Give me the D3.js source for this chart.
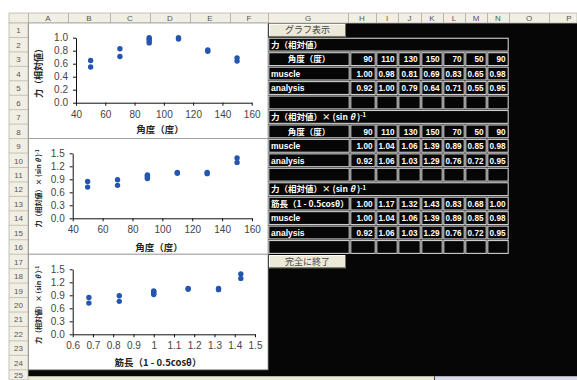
<!DOCTYPE html>
<html>
<head>
<meta charset="utf-8">
<script src="https://cdn.jsdelivr.net/npm/d3@7"></script>
<style>
  html, body { margin: 0; padding: 0; background: #fff; }
  svg { display: block; }
</style>
</head>
<body>
<svg id="sheet" width="577" height="380"></svg>
<script>
// ---- data ----
const angles = [90, 110, 130, 150, 70, 50, 90];
const forceMuscle = [1.00, 0.98, 0.81, 0.69, 0.83, 0.65, 0.98];
const forceAnalysis = [0.92, 1.00, 0.79, 0.64, 0.71, 0.55, 0.95];
const corrMuscle = [1.00, 1.04, 1.06, 1.39, 0.89, 0.85, 0.98];
const corrAnalysis = [0.92, 1.06, 1.03, 1.29, 0.76, 0.72, 0.95];
const muscleLength = [1.00, 1.17, 1.32, 1.43, 0.83, 0.68, 1.00];

const angleTicks = [40, 60, 80, 100, 120, 140, 160];
const forceTicks = [0, 0.2, 0.4, 0.6, 0.8, 1.0];
const corrTicks = [0, 0.3, 0.6, 0.9, 1.2, 1.5];
const lengthTicks = [0.6, 0.7, 0.8, 0.9, 1.0, 1.1, 1.2, 1.3, 1.4, 1.5];

const colLetters = ["A","B","C","D","E","F","G","H","I","J","K","L","M","N","O","P"];
const rowCount = 25;

// ---- sheet geometry ----
const svg = d3.select("#sheet");
const W = 577, H = 380;
const JP = "'Noto Sans CJK JP', sans-serif";
const LAT = "'Liberation Sans', Arial, sans-serif";
const headerTop = 13, headerBottom = 23, rowHdrLeft = 9, rowHdrRight = 28;
const rowH = 14.45;
const rowTop = r => headerBottom + (r - 1) * rowH;
const colEdges = [28, 68, 110, 150, 190, 230, 268, 348, 376, 398, 421, 443, 465, 487, 509, 549, 589];
const hdrFill = "#f1efe4", hdrLine = "#b9b7a8";

svg.append("rect").attr("width", W).attr("height", H).attr("fill", "#fff");

// black worksheet body
svg.append("rect").attr("x", rowHdrRight).attr("y", headerBottom)
  .attr("width", W - rowHdrRight).attr("height", 376.5 - headerBottom).attr("fill", "#060606");

// bottom strip (tab bar)
svg.append("rect").attr("x", rowHdrRight).attr("y", 376.5).attr("width", 434 - rowHdrRight).attr("height", 4).attr("fill", "#ece9d8");
svg.append("rect").attr("x", 434).attr("y", 376.5).attr("width", 1).attr("height", 4).attr("fill", "#444");
svg.append("rect").attr("x", 435).attr("y", 376.5).attr("width", W - 435).attr("height", 4).attr("fill", "#dadcea");

// column header
svg.append("rect").attr("x", rowHdrLeft).attr("y", headerTop).attr("width", W - rowHdrLeft).attr("height", headerBottom - headerTop)
  .attr("fill", hdrFill).attr("stroke", hdrLine).attr("stroke-width", 0.8);
const colHdr = svg.append("g");
colLetters.forEach((c, i) => {
  const x0 = colEdges[i], x1 = colEdges[i + 1];
  colHdr.append("line").attr("x1", x0 + 0.5).attr("x2", x0 + 0.5).attr("y1", headerTop).attr("y2", headerBottom).attr("stroke", hdrLine);
  colHdr.append("text").attr("x", (x0 + x1) / 2).attr("y", headerBottom - 2.5)
    .attr("text-anchor", "middle").attr("font-family", LAT).attr("font-size", 8).attr("fill", "#555").text(c);
});

// row header
svg.append("rect").attr("x", rowHdrLeft).attr("y", headerBottom).attr("width", rowHdrRight - rowHdrLeft).attr("height", H - headerBottom)
  .attr("fill", hdrFill).attr("stroke", hdrLine).attr("stroke-width", 0.8);
const rowHdr = svg.append("g");
d3.range(1, rowCount + 1).forEach(r => {
  const y1 = rowTop(r + 1);
  rowHdr.append("line").attr("x1", rowHdrLeft).attr("x2", rowHdrRight).attr("y1", y1).attr("y2", y1).attr("stroke", hdrLine).attr("stroke-width", 0.8);
  rowHdr.append("text").attr("x", (rowHdrLeft + rowHdrRight) / 2).attr("y", Math.min(y1 - 4, H - 2))
    .attr("text-anchor", "middle").attr("font-family", LAT).attr("font-size", 8).attr("fill", "#555").text(r);
});

// ---- charts ----
const markerFill = "#2456b0";

function drawChart(cfg) {
  const g = svg.append("g");
  g.append("rect").attr("x", 28.5).attr("y", cfg.top).attr("width", 268 - 28.5).attr("height", cfg.bottom - cfg.top)
    .attr("fill", "#fff").attr("stroke", "#9a9a9a").attr("stroke-width", 0.8);

  const x = d3.scaleLinear().domain(cfg.xDomain).range(cfg.xRange);
  const y = d3.scaleLinear().domain(cfg.yDomain).range(cfg.yRange);

  const xAxis = g.append("g").attr("transform", `translate(0,${cfg.yRange[0]})`)
    .call(d3.axisBottom(x).tickValues(cfg.xTicks).tickFormat(cfg.xFormat).tickSize(3).tickSizeOuter(0).tickPadding(5));
  const yAxis = g.append("g").attr("transform", `translate(${cfg.xRange[0]},0)`)
    .call(d3.axisLeft(y).tickValues(cfg.yTicks).tickFormat(cfg.yFormat).tickSize(3).tickSizeOuter(0).tickPadding(5));
  [xAxis, yAxis].forEach(a => {
    a.select(".domain").attr("stroke", "#111").attr("stroke-width", 1);
    a.selectAll(".tick line").attr("stroke", "#111");
    a.selectAll(".tick text").attr("font-family", LAT).attr("font-size", 10).attr("fill", "#444");
  });

  cfg.series.forEach(s => {
    g.append("g").selectAll("circle").data(d3.zip(cfg.xValues, s)).join("circle")
      .attr("cx", d => x(d[0])).attr("cy", d => y(d[1])).attr("r", 2.7).attr("fill", markerFill);
  });

  // x title
  const xt = g.append("text").attr("x", cfg.xTitlePos[0]).attr("y", cfg.xTitlePos[1])
    .attr("text-anchor", "middle").attr("font-family", JP).attr("font-size", 9.5).attr("font-weight", "bold").attr("fill", "#222");
  cfg.xTitle(xt);

  // y title
  const yt = g.append("text").attr("transform", `translate(${cfg.yTitlePos[0]},${cfg.yTitlePos[1]}) rotate(-90)`)
    .attr("text-anchor", "middle").attr("font-family", JP).attr("font-size", cfg.yTitleSize).attr("font-weight", "bold").attr("fill", "#222");
  cfg.yTitle(yt);
}

const fmt1 = d3.format(".1f");
const fmtGeneral = d => String(+d.toFixed(1));

function sinTitle(t, lead) {
  t.append("tspan").text(lead + "× (sin ");
  t.append("tspan").attr("font-style", "italic").text("θ");
  t.append("tspan").text(" )");
  t.append("tspan").attr("dy", "-0.45em").attr("font-size", "0.7em").text("-1");
}

drawChart({
  top: rowTop(1), bottom: rowTop(9),
  xDomain: [40, 160], xRange: [76, 251.7], xTicks: angleTicks, xFormat: d3.format("d"),
  yDomain: [0, 1.0], yRange: [102.7, 37.7], yTicks: forceTicks, yFormat: fmt1,
  xValues: angles, series: [forceMuscle, forceAnalysis],
  xTitlePos: [160, 133], xTitle: t => t.text("角度（度）"),
  yTitlePos: [41.5, 71], yTitleSize: 9, yTitle: t => t.text("力（相対値）")
});

drawChart({
  top: rowTop(9), bottom: rowTop(17),
  xDomain: [40, 160], xRange: [72.7, 252], xTicks: angleTicks, xFormat: d3.format("d"),
  yDomain: [0, 1.5], yRange: [218.3, 153.3], yTicks: corrTicks, yFormat: fmt1,
  xValues: angles, series: [corrMuscle, corrAnalysis],
  xTitlePos: [159, 250.5], xTitle: t => t.text("角度（度）"),
  yTitlePos: [41, 188.5], yTitleSize: 7, yTitle: t => sinTitle(t, "力（相対値）")
});

drawChart({
  top: rowTop(17), bottom: rowTop(25),
  xDomain: [0.6, 1.5], xRange: [72.7, 255], xTicks: lengthTicks, xFormat: fmtGeneral,
  yDomain: [0, 1.5], yRange: [334.3, 269.3], yTicks: corrTicks, yFormat: fmt1,
  xValues: muscleLength, series: [corrMuscle, corrAnalysis],
  xTitlePos: [158, 365.5], xTitle: t => {
    t.append("tspan").text("筋長（1 - 0.5cos");
    t.append("tspan").text("θ");
    t.append("tspan").text("）");
  },
  yTitlePos: [41, 305], yTitleSize: 7, yTitle: t => sinTitle(t, "力（相対値）")
});

// ---- table ----
const tCols = [268, 350, 376, 398, 421, 443, 465, 487, 509];
const table = svg.append("g");
const cellStroke = "#cfcfcf";

function cellBox(x0, x1, r) {
  table.append("rect").attr("x", x0 + 0.8).attr("y", rowTop(r) + 0.8)
    .attr("width", x1 - x0 - 1.6).attr("height", rowH - 1.6)
    .attr("fill", "#060606").attr("stroke", cellStroke).attr("stroke-width", 1.1);
}
function cellText(x, r, anchor, fam, size) {
  return table.append("text").attr("x", x).attr("y", rowTop(r) + rowH - 4)
    .attr("text-anchor", anchor).attr("font-family", fam).attr("font-size", size)
    .attr("font-weight", "bold").attr("fill", "#fff");
}
function titleRow(r, build) {
  cellBox(tCols[0], tCols[tCols.length - 1], r);
  build(cellText(tCols[0] + 3, r, "start", JP, 8.5));
}
function dataRow(r, label, values, fmt, labelAnchor, labelFam) {
  const x0 = tCols[0], x1 = tCols[1];
  cellBox(x0, x1, r);
  if (label !== null) {
    const lx = labelAnchor === "middle" ? (x0 + x1) / 2 : x0 + 3;
    cellText(lx, r, labelAnchor, labelFam, 8.5).text(label);
  }
  d3.range(7).forEach(i => {
    cellBox(tCols[i + 1], tCols[i + 2], r);
    if (values) cellText(tCols[i + 2] - 3.5, r, "end", LAT, 8.2).text(fmt(values[i]));
  });
}
const f2 = d3.format(".2f"), fInt = d3.format("d");

titleRow(2, t => t.text("力（相対値）"));
dataRow(3, "角度（度）", angles, fInt, "middle", JP);
dataRow(4, "muscle", forceMuscle, f2, "start", LAT);
dataRow(5, "analysis", forceAnalysis, f2, "start", LAT);
dataRow(6, null, null);
titleRow(7, t => sinTitle(t, "力（相対値）"));
dataRow(8, "角度（度）", angles, fInt, "middle", JP);
dataRow(9, "muscle", corrMuscle, f2, "start", LAT);
dataRow(10, "analysis", corrAnalysis, f2, "start", LAT);
dataRow(11, null, null);
titleRow(12, t => sinTitle(t, "力（相対値）"));
dataRow(13, "筋長（1 - 0.5cosθ）", muscleLength, f2, "start", JP);
dataRow(14, "muscle", corrMuscle, f2, "start", LAT);
dataRow(15, "analysis", corrAnalysis, f2, "start", LAT);
dataRow(16, null, null);

// ---- buttons ----
function button(r, label) {
  const x0 = 269, x1 = 346, y0 = rowTop(r) + 0.8, y1 = rowTop(r + 1) - 0.5;
  const b = svg.append("g");
  b.append("rect").attr("x", x0).attr("y", y0).attr("width", x1 - x0).attr("height", y1 - y0).attr("fill", "#ece9d8");
  b.append("path").attr("d", `M${x0 + 0.5},${y1}V${y0 + 0.5}H${x1}`).attr("fill", "none").attr("stroke", "#fff");
  b.append("path").attr("d", `M${x0},${y1 - 0.5}H${x1 - 0.5}V${y0}`).attr("fill", "none").attr("stroke", "#716f64");
  b.append("text").attr("x", (x0 + x1) / 2).attr("y", y1 - 3.5).attr("text-anchor", "middle")
    .attr("font-family", JP).attr("font-size", 9).attr("fill", "#444").text(label);
}
button(1, "グラフ表示");
button(17, "完全に終了");
</script>
</body>
</html>
